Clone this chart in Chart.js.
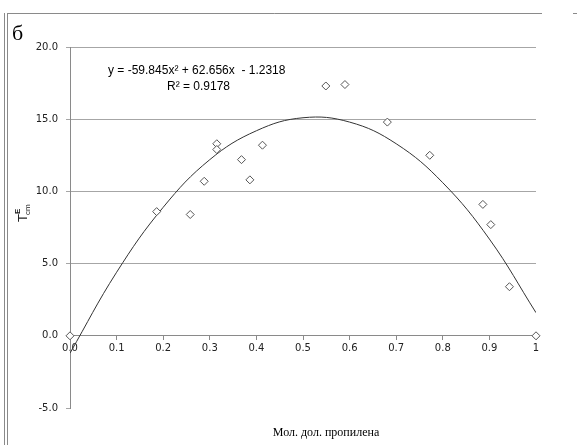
<!DOCTYPE html>
<html lang="ru">
<head>
  <meta charset="UTF-8" />
  <title>Т^E_cm от мол. доли пропилена</title>
  <script src="https://cdn.jsdelivr.net/npm/chart.js"></script>
  <style>
    html, body {
      margin: 0;
      padding: 0;
      background: #fff;
    }
    #wrap {
      width: 577px;
      height: 445px;
    }
  </style>
</head>
<body>
  <div id="wrap"><canvas id="chart" width="577" height="445"></canvas></div>

  <script>
    // измеренные точки
    const molFrac = [0, 0.186, 0.258, 0.288, 0.315, 0.315, 0.368, 0.386, 0.413, 0.549, 0.590, 0.681, 0.772, 0.886, 0.903, 0.943, 1.0];
    const tValues = [0, 8.6, 8.4, 10.7, 13.3, 12.9, 12.2, 10.8, 13.2, 17.3, 17.4, 14.8, 12.5, 9.1, 7.7, 3.4, 0];

    // линия тренда
    const trendX = [0, 0.1, 0.2, 0.3, 0.4, 0.5, 0.6, 0.7, 0.8, 0.9, 1.0];
    const trendY = [-1.2, 4.4, 8.9, 12.2, 14.2, 15.1, 14.8, 13.3, 10.6, 6.7, 1.6];

    const eqLine1 = 'y = -59.845x² + 62.656x  - 1.2318';
    const eqLine2 = 'R² = 0.9178';
    const xTitle = 'Мол. дол. пропилена';

    const points = molFrac.map((x, i) => ({ x: x, y: tValues[i] }));
    const trend = trendX.map((x, i) => ({ x: x, y: trendY[i] }));

    const decor = {
      id: 'decor',
      afterDraw(chart) {
        const ctx = chart.ctx;
        ctx.save();

        // рамка
        ctx.strokeStyle = '#8a8a8a';
        ctx.lineWidth = 1;
        ctx.beginPath();
        ctx.moveTo(4.5, 13);
        ctx.lineTo(4.5, 445);
        ctx.moveTo(7.5, 13);
        ctx.lineTo(7.5, 445);
        ctx.moveTo(7.5, 13.5);
        ctx.lineTo(542, 13.5);
        ctx.moveTo(573, 13.5);
        ctx.lineTo(577, 13.5);
        ctx.stroke();

        ctx.fillStyle = '#000';
        ctx.textBaseline = 'alphabetic';

        // буква
        ctx.font = '22px "Liberation Serif"';
        ctx.textAlign = 'left';
        ctx.fillText('б', 12, 40);

        // уравнение
        ctx.font = '12px "Liberation Sans"';
        ctx.fillText(eqLine1, 108, 74);
        ctx.fillText(eqLine2, 167, 90);

        // подпись оси X
        ctx.font = '12px "Liberation Serif"';
        ctx.textAlign = 'center';
        ctx.fillText(xTitle, 326, 436);

        // подпись оси Y
        ctx.translate(27, 222);
        ctx.rotate(-Math.PI / 2);
        ctx.textAlign = 'left';
        ctx.fillStyle = '#222';
        ctx.font = '13px "Liberation Sans"';
        ctx.fillText('T', 0, 0);
        ctx.font = 'bold 8px "Liberation Sans"';
        ctx.fillText('E', 8, -7);
        ctx.font = '8px "Liberation Sans"';
        ctx.fillText('cm', 7, 3);

        ctx.restore();
      }
    };

    new Chart(document.getElementById('chart'), {
      type: 'scatter',
      data: {
        datasets: [
          {
            data: points,
            pointStyle: 'rectRot',
            pointRadius: 4,
            pointBorderWidth: 1,
            pointBorderColor: '#555',
            pointBackgroundColor: '#fff',
            clip: false
          },
          {
            type: 'line',
            data: trend,
            borderColor: '#333',
            borderWidth: 1,
            pointRadius: 0,
            tension: 0.4,
            fill: false
          }
        ]
      },
      options: {
        responsive: false,
        animation: false,
        layout: { padding: { left: 0, right: 41, top: 47, bottom: 37 } },
        plugins: {
          legend: { display: false },
          tooltip: { enabled: false }
        },
        scales: {
          x: {
            type: 'linear',
            min: 0,
            max: 1,
            position: { y: 0 },
            border: { color: '#8a8a8a' },
            grid: { drawOnChartArea: false, tickLength: 4, tickColor: '#8a8a8a' },
            ticks: {
              stepSize: 0.1,
              padding: 3,
              color: '#222',
              font: { family: 'DejaVu Sans', size: 10 },
              callback: v => (v === 1 ? '1' : v.toFixed(1))
            }
          },
          y: {
            min: -5,
            max: 20,
            border: { color: '#8a8a8a' },
            grid: {
              color: c => (c.tick && c.tick.value > 0 ? '#a6a6a6' : 'rgba(0,0,0,0)'),
              tickColor: '#a6a6a6',
              tickLength: 4
            },
            ticks: {
              stepSize: 5,
              padding: 8,
              color: '#222',
              font: { family: 'DejaVu Sans', size: 10 },
              callback: v => v.toFixed(1)
            },
            afterFit: s => { s.width = 70; }
          }
        }
      },
      plugins: [decor]
    });
  </script>
</body>
</html>
